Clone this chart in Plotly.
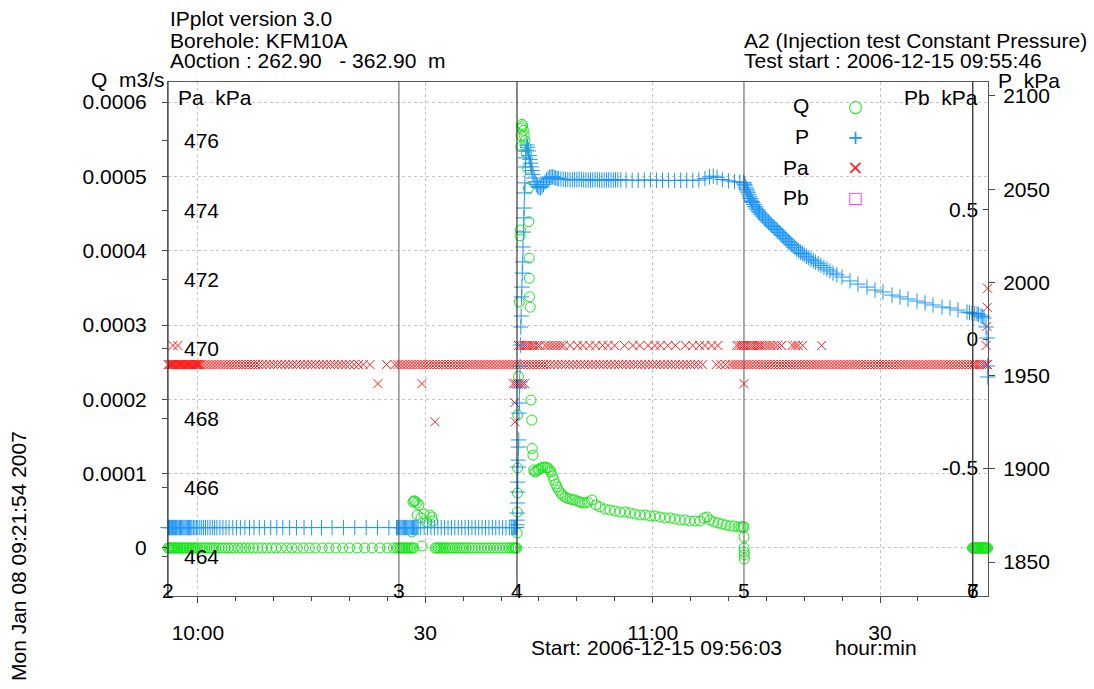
import plotly.graph_objects as go

# ---------------- DATA (time = minutes after 10:00:00) ----------------
# Q  (m3/s) - samples that read zero
q_zero_times = [-3.95,-3.8,-3.65,-3.5,-3.35,-3.2,-3.05,-2.9,-2.75,-2.6,-2.4,-2.2,-2.0,-1.8,-1.6,-1.4,-1.2,-1.0,-0.8,-0.6,-0.4,-0.2,0.0,
    0.3,0.6,0.9,1.2,1.5,1.8,2.1,2.4,2.8,3.2,3.6,4.0,4.4,4.8,5.3,5.8,6.3,6.8,7.3,7.9,8.5,9.1,9.7,10.3,11.0,11.7,12.4,13.1,13.9,
    14.7,15.5,16.4,17.3,18.2,19.1,20.0,21.0,22.0,23.0,24.0,25.0,25.8,26.2,26.5,26.7,26.9,27.1,27.3,27.5,27.7,27.9,28.1,28.3,28.5,
    31.3,31.5,31.7,31.9,32.1,32.3,32.5,32.7,33.0,33.3,33.6,33.9,34.2,34.5,34.8,35.1,35.4,35.8,36.2,36.6,37.0,37.4,37.8,38.2,
    38.6,39.0,39.4,39.8,40.2,40.6,41.0,41.3,41.6,41.8,41.95,42.05,
    72.07,
    102.2,102.3,102.4,102.5,102.6,102.7,102.8,102.9,103.0,103.1,103.2,103.3,103.4,103.5,103.6,103.7,103.8,103.9,104.0,104.1,104.2]
# Q  (m3/s) - non-zero samples
q_flow_times = [28.24,28.37,28.5,28.64,28.9,29.16,28.95,29.43,29.56,29.82,30.2,30.6,30.88,31.0,
    42.12,42.14,42.16,42.18,42.2,42.3,42.4,42.5,42.55,42.6,42.65,42.7,42.75,42.85,42.95,43.05,43.15,43.25,43.35,
    43.5,43.6,43.65,43.7,43.72,43.75,43.85,43.95,44.05,44.1,44.2,44.3,
    44.47,44.6,44.87,45.0,45.26,45.5,45.79,46.0,46.19,46.4,46.58,46.8,46.98,47.2,47.37,47.6,47.9,48.1,48.43,48.7,
    49.09,49.4,49.75,50.1,50.41,50.7,51.07,51.46,51.99,52.52,53.05,53.71,54.37,55.03,55.69,56.35,57.01,57.67,58.33,
    58.99,59.65,60.31,60.97,61.63,62.29,62.95,63.61,64.26,64.92,65.58,66.24,66.77,67.17,67.56,68.09,68.62,69.15,
    69.68,70.2,70.73,71.26,71.66,71.92,72.05,72.06,72.08,72.09,72.1]
q_flow_values = [0.0000215,0.0000619,0.0000632,0.0000632,0.0000605,0.0000578,0.0000444,0.0000404,0.0000027,0.0000457,
    0.000035,0.0000444,0.0000417,0.0000363,
    0.0000202,0.0000484,0.000074,0.0001076,0.000179,0.000231,0.000331,0.00042,0.000428,0.00054,0.000555,0.000565,
    0.00057,0.000568,0.000562,0.000555,0.000548,0.00054,0.000531,
    0.000511,0.000484,0.000439,0.00039,0.000363,0.000338,0.000324,0.000199,0.000172,0.000134,0.000125,0.000105,
    0.0001022,0.0001035,0.0001049,0.000106,0.0001076,0.0001085,0.000109,0.000108,0.0001076,0.000105,0.0001022,0.000097,
    0.0000915,0.000086,0.0000821,0.000078,0.000074,0.000071,0.0000686,0.000067,
    0.0000659,0.000065,0.0000646,0.000063,0.0000619,0.000061,0.0000605,0.0000619,0.0000646,0.0000578,0.0000552,
    0.0000525,0.0000511,0.0000498,0.0000484,0.0000484,0.0000471,0.0000457,0.0000444,
    0.0000444,0.0000431,0.0000431,0.0000417,0.0000404,0.0000404,0.000039,0.0000377,0.0000377,0.0000363,0.0000363,
    0.0000363,0.0000404,0.0000417,0.0000377,0.000035,0.0000336,0.0000323,
    0.0000309,0.0000296,0.0000296,0.0000283,0.0000283,0.0000283,0.0000283,0.0000148,-0.0000054,-0.0000094,-0.0000148]

# P (kPa) - level before the injection start
p_base_level = 1868.5
p_base_times = [-3.95,-3.85,-3.75,-3.65,-3.55,-3.45,-3.35,-3.25,-3.15,-3.05,-2.95,-2.85,-2.75,-2.6,-2.45,-2.3,-2.15,-2.0,
    -1.85,-1.7,-1.55,-1.4,-1.25,-1.1,-0.95,-0.8,-0.6,-0.4,-0.2,0.0,0.25,0.5,0.75,1.0,1.3,1.6,1.9,2.2,2.5,2.9,3.3,3.7,4.1,
    4.6,5.1,5.6,6.2,6.8,7.4,8.1,8.8,9.6,10.4,11.2,12.1,13.0,14.0,15.0,16.3,17.7,19.2,20.7,22.2,23.7,25.2,26.2,26.35,
    26.5,26.65,26.8,26.95,27.1,27.25,27.4,27.55,27.7,27.85,28.0,28.15,28.3,28.45,28.6,28.75,28.9,29.05,29.4,29.85,
    30.3,30.75,31.2,31.65,32.1,32.55,33.0,33.45,33.9,34.35,34.8,35.25,35.7,36.15,36.6,37.05,37.5,37.95,38.4,38.85,
    39.3,39.75,40.2,40.65,41.1,41.4,41.6,41.75,41.85,41.95,42.05]
# P (kPa) - injection and recovery
p_times = [42.1,42.12,42.14,42.16,42.18,42.2,42.23,42.26,42.3,42.33,42.36,42.4,42.43,42.46,42.5,42.55,42.6,42.65,
    42.7,42.75,42.8,42.85,42.9,42.95,43.0,43.05,43.1,43.15,43.2,43.25,43.3,43.4,43.5,43.6,43.7,43.8,43.9,44.0,44.1,
    44.2,44.35,44.5,44.65,44.8,45.0,45.2,45.4,45.6,45.8,46.0,46.2,46.4,46.6,46.8,47.0,47.2,47.4,
    47.6,47.9,48.2,48.5,48.8,49.1,49.4,49.7,50.0,50.3,50.6,50.9,51.2,51.5,51.8,52.1,52.4,52.7,53.0,53.3,53.6,53.9,
    54.2,54.5,54.8,55.1,55.4,55.8,56.5,57.3,58.1,58.9,59.7,60.5,61.3,62.1,62.9,63.7,64.5,65.3,66.1,66.9,67.5,68.0,
    68.5,69.2,70.0,70.8,71.5,72.0,
    72.05,72.12,72.2,72.3,72.4,72.5,72.6,72.7,72.8,72.9,73.0,73.1,73.2,73.35,73.5,73.65,73.8,73.95,74.1,74.3,74.5,
    74.7,74.9,75.1,75.3,75.5,75.7,75.9,76.1,76.3,76.5,76.7,76.9,77.1,77.3,77.5,77.7,77.9,78.1,78.3,78.5,78.75,79.0,
    79.25,79.5,79.75,80.0,80.3,80.6,80.9,81.2,81.5,81.85,82.2,82.6,83.0,83.4,83.8,84.3,84.98,
    86.04,87.09,88.28,89.34,90.39,91.58,92.64,93.69,94.88,95.94,96.99,98.18,99.23,
    100.29,101.48,101.8,102.14,102.5,102.8,103.0,103.33,103.5,103.72,103.99,104.12,104.2,104.22]
p_values = [1870.0,1872.5,1876.3,1881.7,1887.6,1892.9,1901.0,1904.7,1911.7,1915.5,1929.9,1935.3,1943.4,1946.6,1955.0,
    1966.4,1976.1,1982.0,1992.2,1997.5,2005.0,2011.0,2019.0,2027.0,2034.6,2039.9,2048.0,2053.4,2061.9,2066.8,2071.0,
    2073.7,2072.5,2070.5,2068.0,2066.0,2064.0,2062.0,2060.0,2058.0,2056.0,2054.0,2052.5,2051.5,2050.8,2050.8,2051.5,
    2052.5,2053.8,2055.0,2055.8,2056.4,2056.6,2056.6,2056.4,2056.0,2055.7,
    2055.6,2055.5,2055.3,2055.2,2055.2,2055.0,2055.0,2055.1,2055.2,2055.3,2055.2,2055.0,2054.9,2054.9,2055.0,2055.0,
    2055.1,2055.0,2054.9,2054.8,2054.9,2055.0,2055.0,2054.9,2054.9,2055.0,2055.0,2055.0,2054.9,2054.8,2054.8,2054.9,
    2054.9,2054.8,2054.8,2054.7,2054.7,2054.8,2054.8,2054.7,2054.9,2055.7,2056.6,2057.0,2056.4,2055.2,2054.5,2054.0,
    2053.8,2053.5,
    2053.4,2052.6,2051.8,2050.7,2049.9,2049.0,2048.1,2047.0,2045.9,2045.0,2044.1,2043.4,2042.8,2041.8,2040.8,2039.9,
    2039.0,2038.2,2037.4,2036.5,2035.6,2034.7,2033.8,2033.0,2032.2,2031.4,2030.6,2029.9,2029.2,2028.4,2027.6,2026.8,
    2026.0,2025.2,2024.4,2023.6,2022.8,2022.0,2021.2,2020.4,2019.7,2018.8,2017.9,2017.0,2016.2,2015.5,2014.8,2014.0,
    2013.2,2012.4,2011.6,2010.9,2010.0,2009.1,2008.1,2007.1,2006.1,2005.0,2004.1,2002.9,
    2000.8,1999.1,1997.5,1995.9,1994.9,1993.2,1992.2,1991.1,1990.0,1989.0,1987.9,1986.8,1986.3,
    1985.2,1984.1,1983.9,1983.6,1983.3,1983.1,1982.7,1982.0,1981.6,1980.9,1976.1,1970.2,1955.2,1949.3]

# Pa (kPa) - main level and the neighbouring readings
pa_base_level = 469.55
pa_base_times = [-3.95,-3.8,-3.65,-3.5,-3.35,-3.2,-3.05,-2.9,-2.75,-2.6,-2.45,-2.3,-2.15,-2.0,-1.85,-1.7,-1.55,-1.4,-1.25,
    -1.1,-0.95,-0.8,-0.65,-0.5,-0.35,-0.2,-0.05,0.1,0.25,
    0.4,0.8,1.2,1.6,2.0,2.4,2.8,3.2,3.6,4.0,4.4,4.8,5.2,5.6,6.0,6.4,6.8,7.2,7.6,8.0,8.5,9.0,9.5,10.0,10.5,11.0,11.5,
    12.0,12.5,13.0,13.5,14.0,14.5,15.0,15.5,16.0,16.5,17.0,17.5,18.0,18.5,19.0,19.5,20.0,20.6,21.2,21.8,22.7,24.9,
    26.0,26.4,26.8,27.2,27.6,28.0,28.4,28.8,29.2,29.6,30.0,30.4,30.8,31.2,31.6,32.0,32.4,32.8,33.2,33.6,34.0,34.4,
    34.8,35.2,35.6,36.0,36.4,36.8,37.2,37.6,38.0,38.4,38.8,39.2,39.6,40.0,40.4,40.8,41.2,41.6,42.0,
    42.4,42.8,43.2,43.6,44.0,44.4,44.8,45.2,45.6,46.0,46.5,47.0,47.5,48.0,48.5,49.0,49.5,50.0,50.5,51.0,51.5,52.0,
    52.5,53.0,53.5,54.0,54.5,55.0,55.5,56.0,56.5,57.0,57.5,58.0,58.5,59.0,59.5,60.0,60.5,61.0,61.5,62.0,62.5,63.0,
    63.5,64.0,64.5,65.0,65.5,66.0,66.6,68.4,69.0,69.6,70.2,70.6,71.0,71.4,71.8,
    72.2,72.6,73.0,73.4,73.8,74.2,74.6,75.0,75.4,75.8,76.2,76.6,77.0,77.4,77.8,78.2,78.6,79.0,79.4,79.8,80.2,80.6,
    81.0,81.4,81.8,82.2,82.6,83.0,83.4,83.8,84.2,84.6,85.0,85.4,85.8,86.2,86.6,87.0,87.4,87.8,88.2,88.6,89.0,89.4,
    89.8,90.2,90.6,91.0,91.4,91.8,92.2,92.6,93.0,93.4,93.8,94.2,94.6,95.0,95.4,95.8,96.2,96.6,97.0,97.4,97.8,98.2,
    98.6,99.0,99.4,99.8,100.2,100.6,101.0,101.4,101.8,102.2,102.5,102.8,103.1,103.4,103.7,104.0,104.2]
pa_upper_level = 470.10
pa_upper_times = [-3.3,-2.64,42.3,42.6,42.9,43.2,43.5,43.8,44.1,44.4,44.8,45.1,45.8,46.2,46.6,47.0,47.4,47.8,48.2,49.1,
    50.1,50.8,51.7,52.5,53.4,54.1,55.0,56.3,57.4,58.3,59.4,60.3,61.0,62.0,63.0,64.3,65.3,66.2,66.9,67.8,68.6,71.1,
    71.4,71.7,72.0,72.3,72.6,72.9,73.2,73.5,73.8,74.1,74.4,74.8,75.2,75.6,76.0,76.5,77.0,78.4,78.8,79.2,79.8,82.3]
pa_lower_level = 469.00
pa_lower_times = [23.75,29.56,41.6,41.9,42.2,42.5,42.8,43.1,72.05]
pa_misc_times = [31.27,41.8,41.85,104.0,104.1,104.15,104.2]
pa_misc_values = [467.9,468.45,467.9,470.1,470.65,471.2,471.75]

# Test events (minutes after 10:00)
event_times = [-3.95,26.52,42.10,72.05,102.22,102.26]
event_labels = ["2","3","4","5","6","7"]

x_tick_vals = [0,30,60,90]
x_tick_text = ["10:00","30","11:00","30"]
q_ticks = [0,0.0001,0.0002,0.0003,0.0004,0.0005,0.0006]
q_tick_text = ["0","0.0001","0.0002","0.0003","0.0004","0.0005","0.0006"]
pa_ticks = [464,466,468,470,472,474,476]
p_ticks = [1850,1900,1950,2000,2050,2100]
pb_ticks = [-0.5,0,0.5]
pb_tick_text = ["-0.5","0","0.5"]

# ---------------- STYLE ----------------
GREEN = "#19e619"
BLUE = "#1e96f5"
RED = "#ff1a1a"
MAGENTA = "#ff33ff"
FONT = "Liberation Sans, Arial, sans-serif"
W, H = 1094, 689
PL, PR, PT, PB = 168, 988, 82, 596

def px(x):
    return (x - PL) / (PR - PL)

def py(y):
    return (PB - y) / (PB - PT)

fig = go.Figure()

# Q
q_x = q_zero_times + q_flow_times
q_y = [0.0] * len(q_zero_times) + q_flow_values
fig.add_trace(go.Scatter(x=q_x, y=q_y, mode="markers", yaxis="y", cliponaxis=False, name="Q",
                         marker=dict(symbol="circle-open", size=10, color=GREEN, line=dict(width=1.0, color=GREEN))))
# Pa
pa_x = pa_base_times + pa_upper_times + pa_lower_times + pa_misc_times
pa_y = ([pa_base_level] * len(pa_base_times) + [pa_upper_level] * len(pa_upper_times)
        + [pa_lower_level] * len(pa_lower_times) + pa_misc_values)
fig.add_trace(go.Scatter(x=pa_x, y=pa_y, mode="markers", yaxis="y2", cliponaxis=False, name="Pa",
                         marker=dict(symbol="x-thin", size=9, color=RED, line=dict(width=1.0, color=RED))))
# P
p_x = p_base_times + p_times
p_y = [p_base_level] * len(p_base_times) + p_values
fig.add_trace(go.Scatter(x=p_x, y=p_y, mode="markers", yaxis="y3", cliponaxis=False, name="P",
                         marker=dict(symbol="cross-thin", size=11, color=BLUE, line=dict(width=1.0, color=BLUE))))
# Pb (no readings)
fig.add_trace(go.Scatter(x=[], y=[], mode="markers", yaxis="y4", name="Pb",
                         marker=dict(symbol="square-open", size=9, color=MAGENTA)))

GRID = dict(showgrid=True, gridcolor="#c4c4c4", griddash="dot", gridwidth=1)

fig.update_layout(
    width=W, height=H,
    margin=dict(l=PL, r=W - PR, t=PT, b=H - PB, pad=0),
    paper_bgcolor="white", plot_bgcolor="white",
    showlegend=False,
    font=dict(family=FONT, size=21, color="black"),
    xaxis=dict(range=[-3.95, 104.25], tickvals=x_tick_vals, ticktext=x_tick_text,
               ticks="outside", ticklen=6, tickcolor="#444", tickwidth=1,
               minor=dict(dtick=5, tick0=0, ticks="outside", ticklen=4, tickcolor="#444", showgrid=False),
               showline=True, linecolor="#555", linewidth=1, mirror=True, zeroline=False,
               ticklabelstandoff=12, tickfont=dict(color="black"), **GRID),
    yaxis=dict(range=[-0.0000646, 0.000627], tickvals=q_ticks, ticktext=q_tick_text,
               ticks="outside", ticklen=5, tickcolor="#444",
               showline=True, linecolor="#555", linewidth=1, mirror=True, zeroline=False,
               ticklabelstandoff=11, tickfont=dict(color="black"), **GRID),
    yaxis2=dict(overlaying="y", side="left", anchor="x", range=[462.875, 477.70], tickvals=pa_ticks,
                ticks="outside", ticklen=5, tickcolor="#444", showticklabels=False,
                showgrid=False, zeroline=False, showline=False),
    yaxis3=dict(overlaying="y", side="right", anchor="x", range=[1831.8, 2107.5], tickvals=p_ticks,
                ticks="outside", ticklen=6, tickcolor="#444", tickfont=dict(color="black"),
                showgrid=False, zeroline=False, showline=False, ticklabelstandoff=4),
    yaxis4=dict(overlaying="y", side="right", anchor="x", range=[-0.996, 0.996], tickvals=pb_ticks,
                ticktext=pb_tick_text, ticks="inside", ticklen=5, tickcolor="#444", ticklabelposition="inside",
                tickfont=dict(color="black"),
                showgrid=False, zeroline=False, showline=False, ticklabelstandoff=6),
)

shapes = []
# white panel behind the legend
shapes.append(dict(type="rect", xref="paper", yref="paper", x0=px(790), x1=px(898), y0=py(213), y1=py(100),
                   fillcolor="white", line=dict(width=0), layer="between"))
for i, t in enumerate(event_times):
    shapes.append(dict(type="line", xref="x", yref="paper", x0=t, x1=t, y0=0, y1=1,
                       line=dict(color="#111" if i in (0, 2, 4) else "#555", width=1), layer="above"))
fig.update_layout(shapes=shapes)

ann = []
def text(s, x, y, xa="left", size=21, color="black", angle=0, family=FONT):
    ann.append(dict(text=s, x=px(x), y=py(y), xref="paper", yref="paper", xanchor=xa, yanchor="middle",
                    showarrow=False, font=dict(size=size, color=color, family=family), textangle=angle))

NB = "\u00a0"
text("IPplot version 3.0", 168, 19)
text("Borehole: KFM10A", 168, 40)
text("A0ction : 262.90" + NB * 3 + "- 362.90" + NB * 2 + "m", 168, 61)
text("A2 (Injection test Constant Pressure)", 742, 40)
text("Test start : 2006-12-15 09:55:46", 742, 61)
text("Q" + NB * 2 + "m3/s", 167, 79, xa="right")
text("Pa" + NB * 2 + "kPa", 176, 97)
text("Pb" + NB * 2 + "kPa", 980, 97, xa="right")
text("P" + NB * 2 + "kPa", 996, 80)
text("Start: 2006-12-15 09:56:03", 529, 647)
text("hour:min", 833, 647)
text("Mon Jan 08 09:21:54 2007", 18, 556, xa="center", size=21, angle=-90)

# Pa tick labels, written inside the plot next to the left axis
for v in pa_ticks:
    ann.append(dict(text=str(v), x=px(182), y=v, xref="paper", yref="y2", xanchor="left", yanchor="middle",
                    showarrow=False, font=dict(size=21, color="black", family=FONT)))

# legend (labels left of keys, as in the original)
DJ = "DejaVu Sans"
legend_rows = [("Q", "\u25cb", GREEN, 106, 17), ("P", "+", BLUE, 137, 20),
               ("Pa", "\u00d7", RED, 167, 20), ("Pb", "\u25a1", MAGENTA, 197, 16)]
for name, glyph, col, yy, gs in legend_rows:
    text(name, 811, yy, xa="right")
    text(glyph, 855, yy, xa="center", size=gs, color=col, family=DJ)

# event numbers along the bottom
for t, lab in zip(event_times, event_labels):
    ann.append(dict(text=lab, x=t, y=py(590), xref="x", yref="paper", xanchor="center", yanchor="middle",
                    showarrow=False, font=dict(size=21, color="black", family=FONT)))

fig.update_layout(annotations=ann)
fig.write_html("out.html")
